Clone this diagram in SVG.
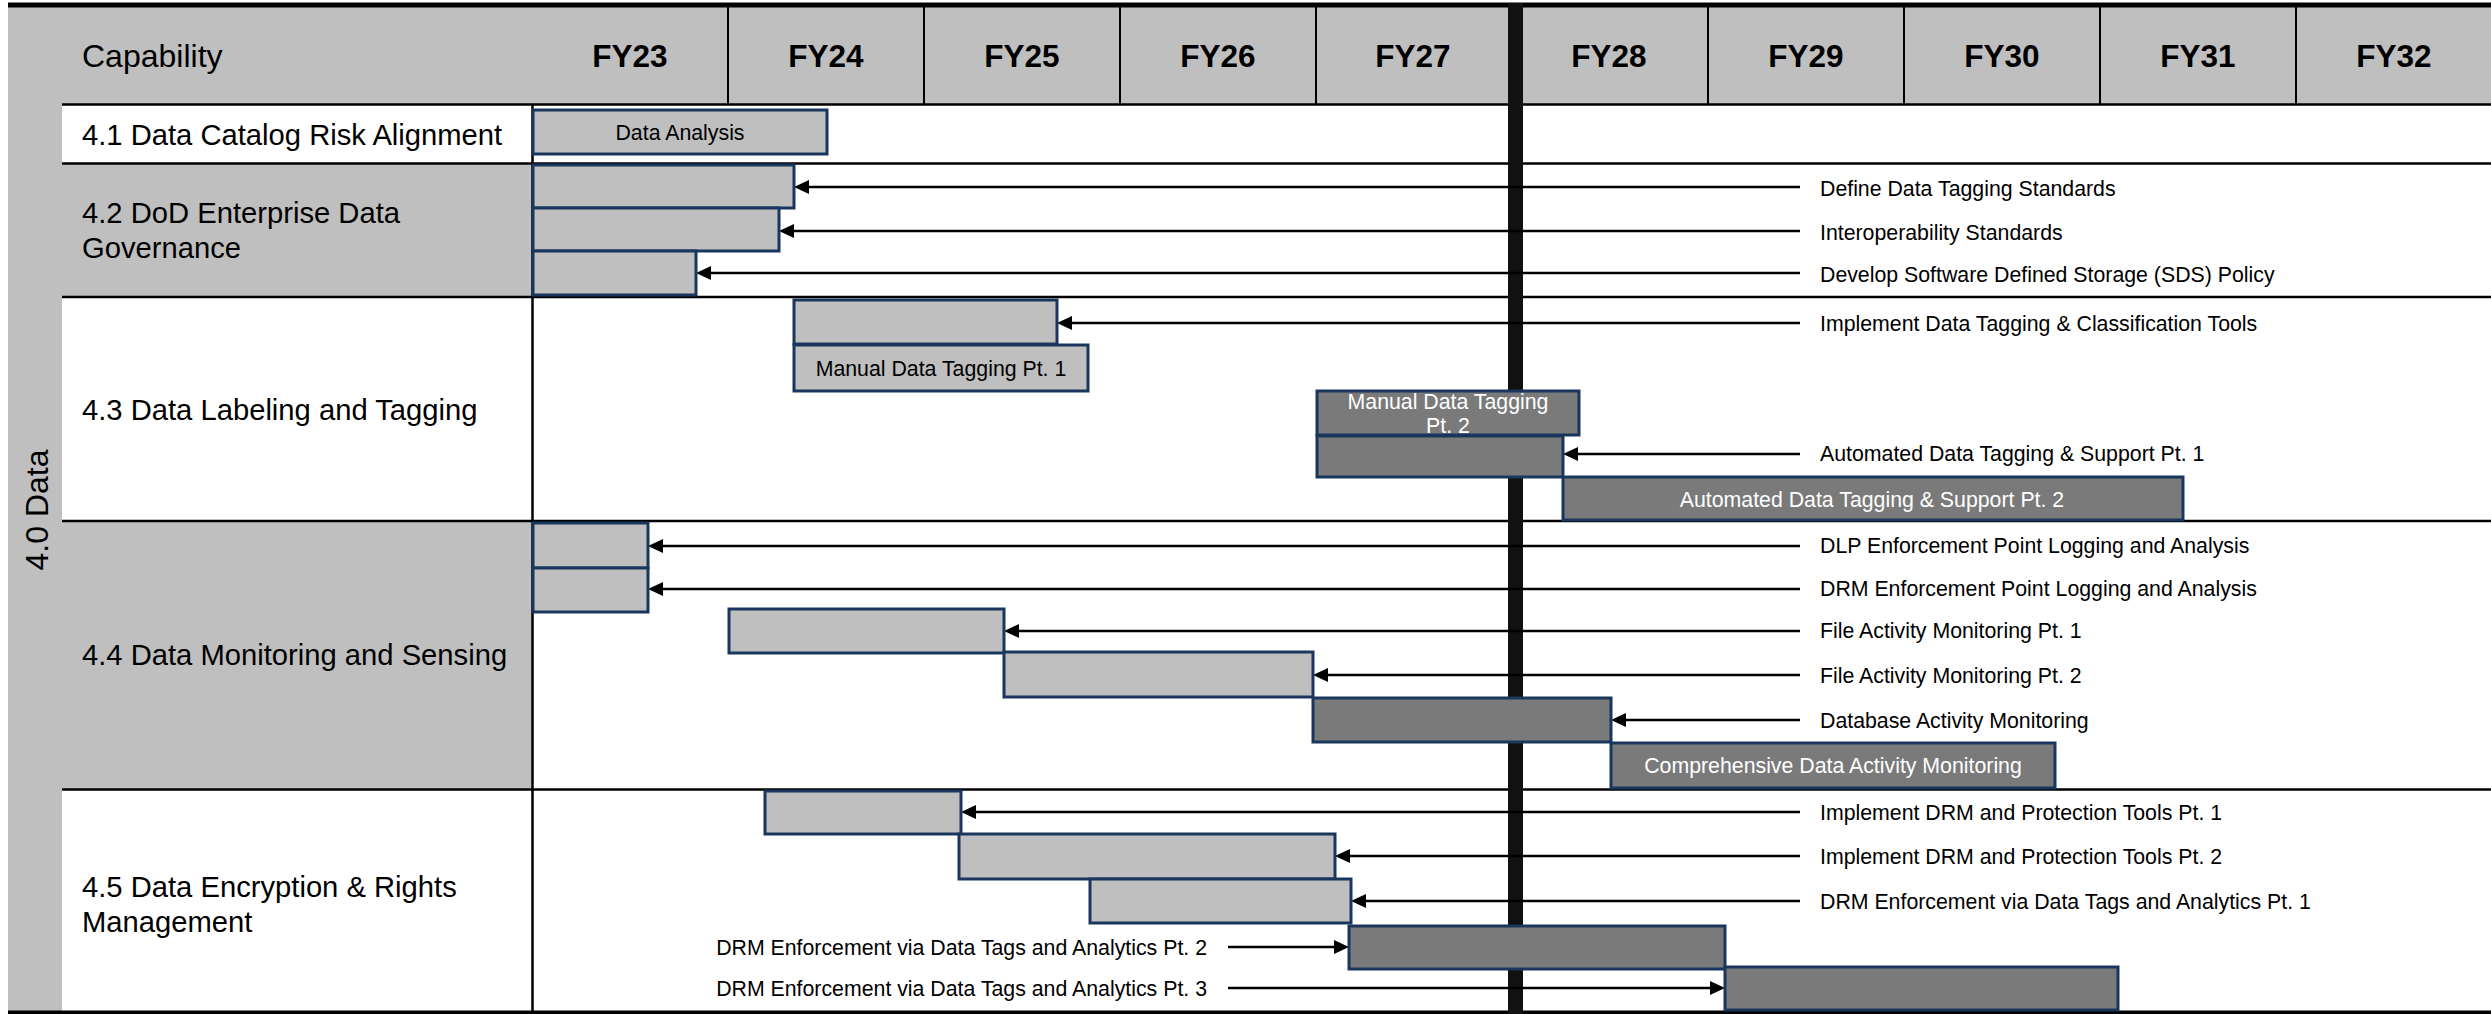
<svg xmlns="http://www.w3.org/2000/svg" width="2491" height="1014" viewBox="0 0 2491 1014">
<style>
text{font-family:"Liberation Sans",Arial,sans-serif;}
.hd{font-size:31.5px;font-weight:bold;fill:#000;text-anchor:middle;}
.cap{font-size:32px;fill:#000;}
.row{font-size:29.2px;fill:#000;}
.lbl{font-size:21.3px;fill:#000;}
.bl{font-size:21.3px;fill:#000;text-anchor:middle;}
.bw{font-size:21.3px;fill:#fff;text-anchor:middle;}
.lt{fill:#BFBFBF;stroke:#1B365D;stroke-width:3;}
.dk{fill:#7A7A7A;stroke:#1B365D;stroke-width:3;}
.grid{stroke:#000;stroke-width:2.5;fill:none;}
.sep{stroke:#000;stroke-width:2;}
.arr{stroke:#000;stroke-width:2.5;fill:none;marker-end:url(#ah);}
</style>
<defs>
<marker id="ah" markerUnits="userSpaceOnUse" markerWidth="16" markerHeight="15" refX="11" refY="7" orient="auto">
<path d="M0,0 L15,7 L0,14 Z" fill="#000"/>
</marker>
</defs>
<rect x="0" y="0" width="2491" height="1014" fill="#fff"/>
<g id="frame">
<rect x="8" y="7" width="2483" height="97" fill="#BFBFBF"/>
<rect x="8" y="7" width="54" height="1005" fill="#BFBFBF"/>
<rect x="62" y="164" width="470" height="133" fill="#BFBFBF"/>
<rect x="62" y="521" width="470" height="268" fill="#BFBFBF"/>
<rect x="8" y="2.5" width="2483" height="5" fill="#000"/>
<line class="grid" x1="62" y1="104.5" x2="2491" y2="104.5"/>
<line class="grid" x1="62" y1="163.5" x2="2491" y2="163.5"/>
<line class="grid" x1="62" y1="297" x2="2491" y2="297"/>
<line class="grid" x1="62" y1="521" x2="2491" y2="521"/>
<line class="grid" x1="62" y1="789.5" x2="2491" y2="789.5"/>
<rect x="8" y="1010.5" width="2483" height="3.5" fill="#000"/>
<line class="grid" x1="532.5" y1="104" x2="532.5" y2="1011"/>
<line class="sep" x1="728" y1="3" x2="728" y2="104"/>
<line class="sep" x1="924" y1="3" x2="924" y2="104"/>
<line class="sep" x1="1120" y1="3" x2="1120" y2="104"/>
<line class="sep" x1="1316" y1="3" x2="1316" y2="104"/>
<line class="sep" x1="1708" y1="3" x2="1708" y2="104"/>
<line class="sep" x1="1904" y1="3" x2="1904" y2="104"/>
<line class="sep" x1="2100" y1="3" x2="2100" y2="104"/>
<line class="sep" x1="2296" y1="3" x2="2296" y2="104"/>
<rect x="1508" y="3" width="15" height="1011" fill="#111"/>
<text class="cap" x="82" y="67">Capability</text>
<text class="hd" x="630" y="67">FY23</text>
<text class="hd" x="826" y="67">FY24</text>
<text class="hd" x="1022" y="67">FY25</text>
<text class="hd" x="1218" y="67">FY26</text>
<text class="hd" x="1413" y="67">FY27</text>
<text class="hd" x="1609" y="67">FY28</text>
<text class="hd" x="1806" y="67">FY29</text>
<text class="hd" x="2002" y="67">FY30</text>
<text class="hd" x="2198" y="67">FY31</text>
<text class="hd" x="2394" y="67">FY32</text>
<text class="cap" transform="translate(48,510) rotate(-90)" text-anchor="middle">4.0 Data</text>
<text class="row" x="82" y="145">4.1 Data Catalog Risk Alignment</text>
<text class="row" x="82" y="223">4.2 DoD Enterprise Data</text>
<text class="row" x="82" y="258">Governance</text>
<text class="row" x="82" y="420">4.3 Data Labeling and Tagging</text>
<text class="row" x="82" y="665">4.4 Data Monitoring and Sensing</text>
<text class="row" x="82" y="897">4.5 Data Encryption &amp; Rights</text>
<text class="row" x="82" y="932">Management</text>
</g>
<g id="connectors">
<line class="arr" x1="1800" y1="187" x2="798" y2="187"/>
<line class="arr" x1="1800" y1="231" x2="783" y2="231"/>
<line class="arr" x1="1800" y1="273" x2="700" y2="273"/>
<line class="arr" x1="1800" y1="323" x2="1061" y2="323"/>
<line class="arr" x1="1800" y1="454" x2="1567" y2="454"/>
<line class="arr" x1="1800" y1="546" x2="652" y2="546"/>
<line class="arr" x1="1800" y1="589" x2="652" y2="589"/>
<line class="arr" x1="1800" y1="631" x2="1008" y2="631"/>
<line class="arr" x1="1800" y1="675" x2="1317" y2="675"/>
<line class="arr" x1="1800" y1="720" x2="1615" y2="720"/>
<line class="arr" x1="1800" y1="812" x2="965" y2="812"/>
<line class="arr" x1="1800" y1="856" x2="1339" y2="856"/>
<line class="arr" x1="1800" y1="901" x2="1355" y2="901"/>
<line class="arr" x1="1228" y1="947" x2="1345" y2="947"/>
<line class="arr" x1="1228" y1="988" x2="1721" y2="988"/>
</g>
<g id="n-data-analysis"><rect class="lt" x="533" y="110" width="294" height="44"/><text class="bl" x="680" y="140">Data Analysis</text></g>
<g id="n-define-tagging"><rect class="lt" x="533" y="165" width="261" height="43"/><text class="lbl" x="1820" y="196">Define Data Tagging Standards</text></g>
<g id="n-interop"><rect class="lt" x="533" y="208" width="246" height="43"/><text class="lbl" x="1820" y="240">Interoperability Standards</text></g>
<g id="n-sds"><rect class="lt" x="533" y="251" width="163" height="44"/><text class="lbl" x="1820" y="282">Develop Software Defined Storage (SDS) Policy</text></g>
<g id="n-impl-tagging"><rect class="lt" x="794" y="300" width="263" height="44"/><text class="lbl" x="1820" y="331">Implement Data Tagging &amp; Classification Tools</text></g>
<g id="n-manual-1"><rect class="lt" x="794" y="345" width="294" height="46"/><text class="bl" x="941" y="376">Manual Data Tagging Pt. 1</text></g>
<g id="n-manual-2"><rect class="dk" x="1317" y="391" width="262" height="44"/><text class="bw" x="1448" y="409">Manual Data Tagging</text><text class="bw" x="1448" y="433">Pt. 2</text></g>
<g id="n-auto-1"><rect class="dk" x="1317" y="436" width="246" height="41"/><text class="lbl" x="1820" y="461">Automated Data Tagging &amp; Support Pt. 1</text></g>
<g id="n-auto-2"><rect class="dk" x="1563" y="477" width="620" height="43"/><text class="bw" x="1872" y="507">Automated Data Tagging &amp; Support Pt. 2</text></g>
<g id="n-dlp"><rect class="lt" x="533" y="523" width="115" height="45"/><text class="lbl" x="1820" y="553">DLP Enforcement Point Logging and Analysis</text></g>
<g id="n-drm-log"><rect class="lt" x="533" y="568" width="115" height="44"/><text class="lbl" x="1820" y="596">DRM Enforcement Point Logging and Analysis</text></g>
<g id="n-fam-1"><rect class="lt" x="729" y="609" width="275" height="44"/><text class="lbl" x="1820" y="638">File Activity Monitoring Pt. 1</text></g>
<g id="n-fam-2"><rect class="lt" x="1004" y="652" width="309" height="45"/><text class="lbl" x="1820" y="683">File Activity Monitoring Pt. 2</text></g>
<g id="n-dam"><rect class="dk" x="1313" y="698" width="298" height="44"/><text class="lbl" x="1820" y="728">Database Activity Monitoring</text></g>
<g id="n-cdam"><rect class="dk" x="1611" y="743" width="444" height="45"/><text class="bw" x="1833" y="773">Comprehensive Data Activity Monitoring</text></g>
<g id="n-drm-1"><rect class="lt" x="765" y="791" width="196" height="43"/><text class="lbl" x="1820" y="820">Implement DRM and Protection Tools Pt. 1</text></g>
<g id="n-drm-2"><rect class="lt" x="959" y="834" width="376" height="45"/><text class="lbl" x="1820" y="864">Implement DRM and Protection Tools Pt. 2</text></g>
<g id="n-drm-enf-1"><rect class="lt" x="1090" y="879" width="261" height="44"/><text class="lbl" x="1820" y="909">DRM Enforcement via Data Tags and Analytics Pt. 1</text></g>
<g id="n-drm-enf-2"><rect class="dk" x="1349" y="926" width="376" height="43"/><text class="lbl" x="1207" y="955" text-anchor="end">DRM Enforcement via Data Tags and Analytics Pt. 2</text></g>
<g id="n-drm-enf-3"><rect class="dk" x="1725" y="967" width="393" height="43"/><text class="lbl" x="1207" y="996" text-anchor="end">DRM Enforcement via Data Tags and Analytics Pt. 3</text></g>
</svg>
